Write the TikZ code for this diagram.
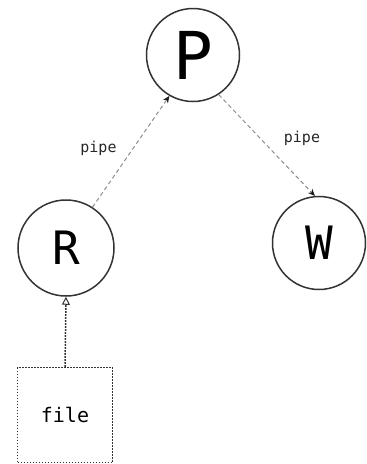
\documentclass[tikz,border=0pt]{standalone}
\usepackage{fontspec}
\setmonofont{DejaVu Sans Mono}
\usetikzlibrary{arrows.meta}
\begin{document}
\begin{tikzpicture}[x=1pt,y=-1pt,
  proc/.style={circle,draw=black!80,line width=1.5pt,minimum size=93pt,inner sep=0pt,font=\ttfamily\fontsize{46}{46}\selectfont},
  pipeline/.style={draw=black!45,dash pattern=on 4pt off 3pt,line width=1pt,-{Stealth[black!90,length=7pt,width=6pt]}},
  source/.style={draw=black!80,dash pattern=on 1.6pt off 1.4pt,line width=1.5pt,-{Triangle[open,length=8pt,width=8pt,line width=1pt]}},
  lbl/.style={font=\ttfamily\fontsize{15}{15}\selectfont,text=black!85}]
\useasboundingbox (0,0) rectangle (367,464);

% processes
\node[proc,font=\ttfamily\fontsize{66}{66}\selectfont] (P) at (193,55) {P};
\node[proc,minimum size=96pt] (R) at (66,248) {R};
\node[proc] (W) at (319,243) {W};

% input
\node[draw=black!80,dash pattern=on 1.6pt off 1.4pt,line width=1.5pt,minimum size=95pt,inner sep=0pt,
  font=\ttfamily\fontsize{20}{20}\selectfont] (file) at (65,415) {file};

% connections
\draw[pipeline] (R.57) -- (P.-120);
\draw[pipeline] (P.-57) -- (W.95);
\draw[source] (file.north) -- (R.south);

\node[lbl] (pipeL) at (98.5,148) {pipe};
\node[lbl] (pipeR) at (302,138) {pipe};
\end{tikzpicture}
\end{document}
